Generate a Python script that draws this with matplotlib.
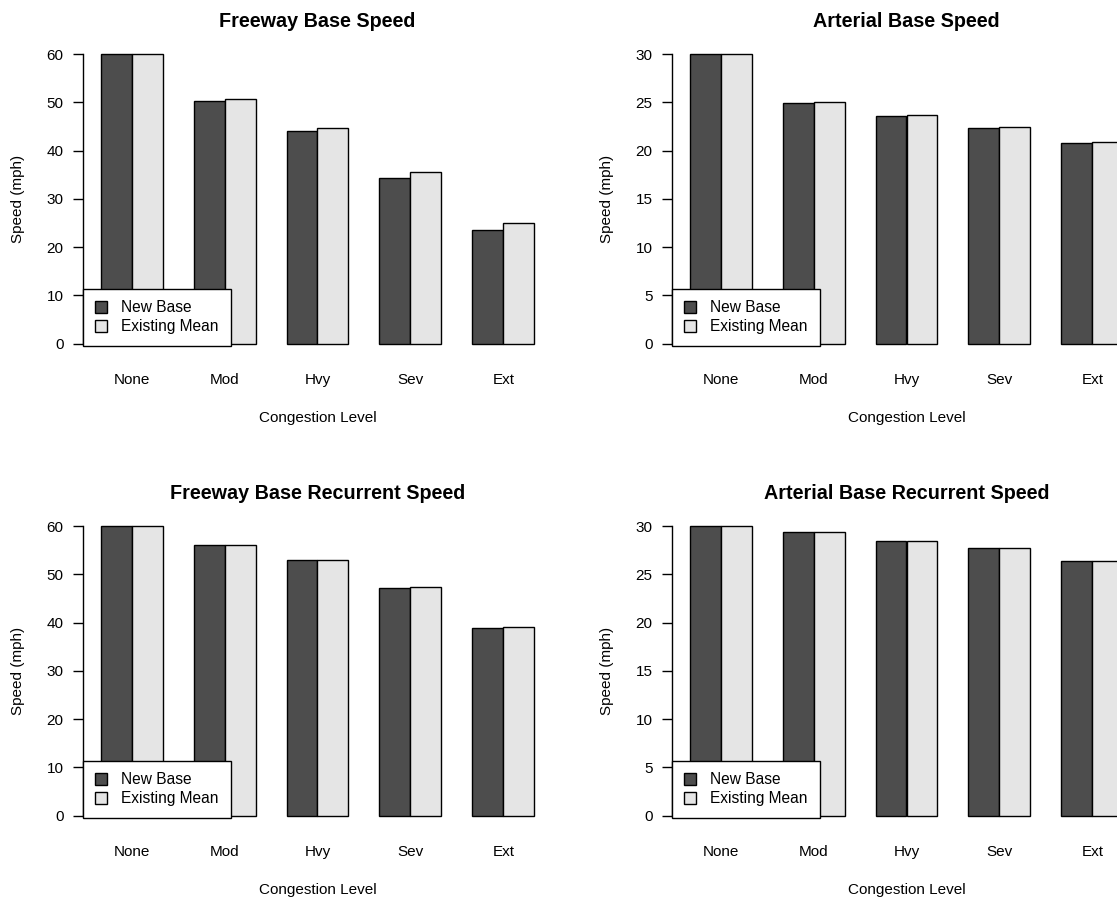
import numpy as np
import matplotlib
matplotlib.use("Agg")
import matplotlib.pyplot as plt

plt.rcParams['font.family'] = ['Liberation Sans', 'DejaVu Sans']

# data
levels = ["None", "Mod", "Hvy", "Sev", "Ext"]
series_names = ["New Base", "Existing Mean"]

fwy_base_new = [60, 50.3, 44.0, 34.35, 23.6]
fwy_base_old = [60, 50.8, 44.7, 35.6, 24.95]
art_base_new = [30, 24.9, 23.55, 22.4, 20.75]
art_base_old = [30, 25.05, 23.65, 22.5, 20.85]
fwy_rec_new = [60, 56.2, 53.1, 47.25, 38.85]
fwy_rec_old = [60, 56.2, 53.1, 47.45, 39.05]
art_rec_new = [30, 29.45, 28.45, 27.7, 26.4]
art_rec_old = [30, 29.45, 28.45, 27.7, 26.4]

W, H = 1117, 899
fig = plt.figure(figsize=(W / 100, H / 100), dpi=100)


def px_axes(l, r, t, b):
    return fig.add_axes([l / W, 1 - b / H, (r - l) / W, (b - t) / H])


def panel(ax, new, old, title, ymax, step):
    n = len(levels)
    x0 = 1 + 3 * np.arange(n)
    ax.bar(x0, new, width=1, align='edge', color='#4d4d4d',
           edgecolor='black', linewidth=1.0, label=series_names[0])
    ax.bar(x0 + 1, old, width=1, align='edge', color='#e5e5e5',
           edgecolor='black', linewidth=1.0, label=series_names[1])
    ax.set_xlim(0.44, 15.56)
    ax.set_ylim(-0.04 * ymax, 1.04 * ymax)
    for s in ['top', 'right', 'bottom']:
        ax.spines[s].set_visible(False)
    ax.spines['left'].set_bounds(0, ymax)
    ax.spines['left'].set_linewidth(1.0)
    ax.set_yticks(np.arange(0, ymax + 1, step))
    ax.tick_params(axis='y', direction='out', length=7.2, width=1.0,
                   pad=7, labelsize=11)
    ax.set_xticks(x0 + 1)
    ax.set_xticklabels(levels)
    ax.tick_params(axis='x', length=0, pad=13, labelsize=11)
    ax.set_xlabel("Congestion Level", fontsize=11)
    ax.xaxis.set_label_coords(0.5, -0.2)
    ax.xaxis.label.set_va('center')
    ax.set_ylabel("Speed (mph)", fontsize=11)
    ax.yaxis.set_label_coords(-65 / 468.4, 0.5)
    ax.yaxis.label.set_va('center')
    ax.set_title(title, fontsize=14.2, fontweight='bold', pad=11.6)
    leg = ax.legend(loc='lower left', bbox_to_anchor=(0, 0.029),
                    borderaxespad=0, fontsize=11.2, fancybox=False,
                    framealpha=1, edgecolor='black', borderpad=0.75,
                    handlelength=0.75, handleheight=0.75,
                    handletextpad=0.95, labelspacing=0.25)
    leg.get_frame().set_linewidth(1.0)


ax1 = px_axes(83.3, 551.7, 42.7, 355.1)
panel(ax1, fwy_base_new, fwy_base_old, "Freeway Base Speed", 60, 10)
ax2 = px_axes(672.3, 1140.7, 42.7, 355.1)
panel(ax2, art_base_new, art_base_old, "Arterial Base Speed", 30, 5)
ax3 = px_axes(83.3, 551.7, 514.7, 827.1)
panel(ax3, fwy_rec_new, fwy_rec_old, "Freeway Base Recurrent Speed", 60, 10)
ax4 = px_axes(672.3, 1140.7, 514.7, 827.1)
panel(ax4, art_rec_new, art_rec_old, "Arterial Base Recurrent Speed", 30, 5)

fig.savefig("out.png", dpi=100)
